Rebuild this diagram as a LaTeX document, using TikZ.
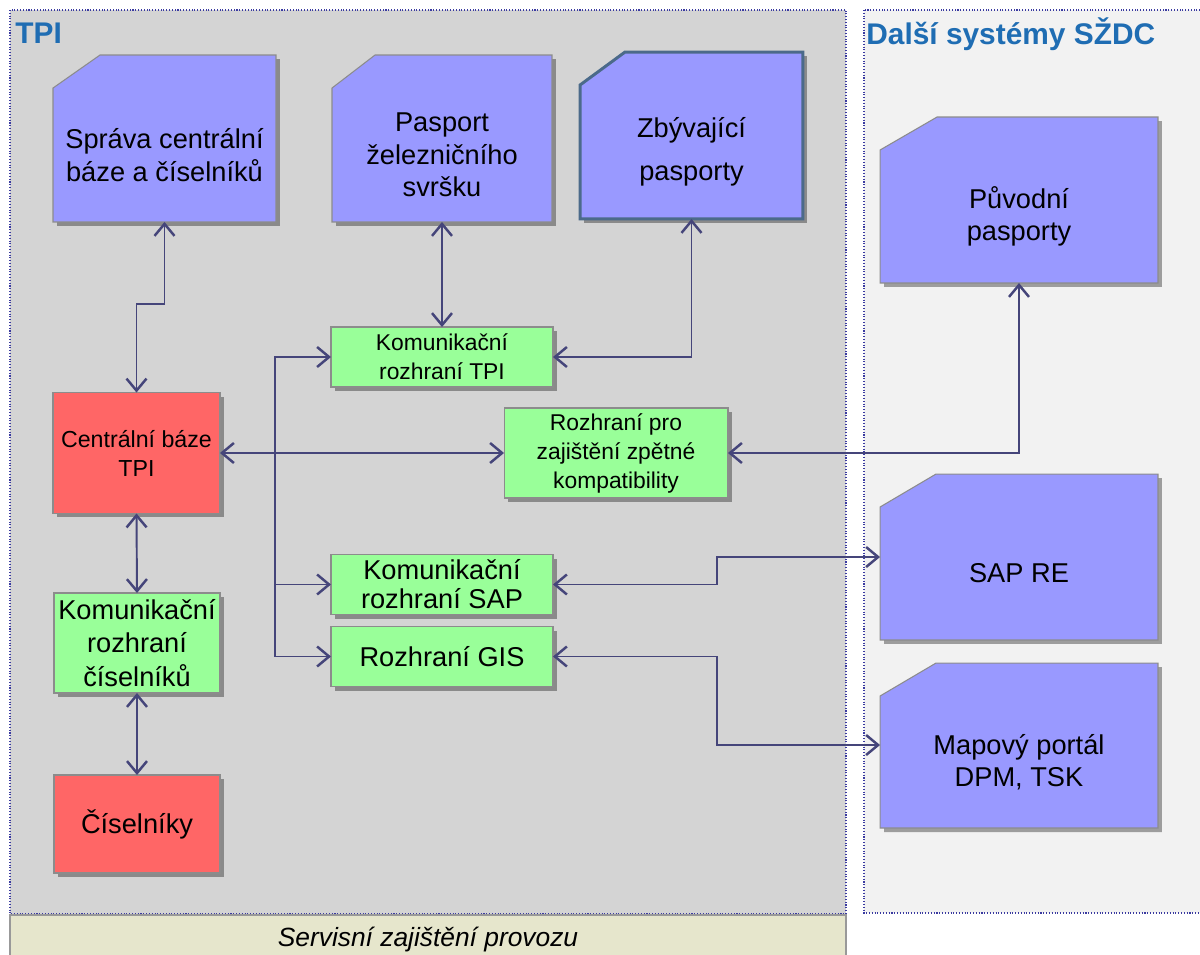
\documentclass[tikz,border=0pt]{standalone}
\usepackage{fontspec}
\setmainfont{Liberation Sans}
\usetikzlibrary{arrows.meta,shadows,backgrounds}
\definecolor{tpigray}{HTML}{D4D4D4}
\definecolor{sysgray}{HTML}{F2F2F2}
\definecolor{servis}{HTML}{E6E6CC}
\definecolor{framec}{HTML}{3A3AA0}
\definecolor{titleblue}{HTML}{1F6DB3}
\definecolor{paspc}{HTML}{9999FF}
\definecolor{ifacec}{HTML}{99FF99}
\definecolor{dbred}{HTML}{FF6666}
\definecolor{linkc}{HTML}{45457A}
\definecolor{thickedge}{HTML}{4B6A8A}

% chamfered "passport" outline behind a node: node name, chamfer width
\newcommand\paspshape[3][]{%
  \path[paspbox,#1] (#2.north west) -- ([xshift=#3,yshift=0.66cm]#2.north west)
    -- ([yshift=0.66cm]#2.north east) -- (#2.south east) -- (#2.south west) -- cycle;}

\begin{document}
\begin{tikzpicture}[x=0.02cm, y=-0.02cm, >={Straight Barb[length=0.24cm,width=0.4cm,line width=1.4pt]},
    big/.style={font=\fontsize{15.5}{18.5}\selectfont},
    small/.style={font=\fontsize{13}{16.5}\selectfont},
    shade/.style={drop shadow={shadow xshift=0.08cm, shadow yshift=-0.08cm, fill=black, opacity=0.35}},
    doc/.style={rectangle, align=center, inner sep=0pt, outer sep=0pt, big},
    paspbox/.style={fill=paspc, draw=black!45, line width=0.6pt, shade},
    iface/.style={rectangle, draw=black!45, fill=ifacec, line width=0.6pt, align=center,
      inner sep=0pt, outer sep=0pt, shade},
    db/.style={iface, fill=dbred},
    conn/.style={draw=linkc, line width=1.1pt}]
\useasboundingbox (0,0) rectangle (1200,954);
\clip (0,0) rectangle (1200,954);

% passports
\node[doc, minimum width=4.46cm, minimum height=2.68cm] (spr) at (164.5,155) {Správa centrální\\báze a číselníků};
\node[doc, minimum width=4.4cm, minimum height=2.68cm] (pas) at (442,155) {Pasport\\železničního\\svršku};
\node[doc, minimum width=4.46cm, minimum height=2.68cm, font=\fontsize{15.5}{24.5}\selectfont] (zby) at (691.5,152) {Zbývající\\pasporty};
\node[doc, minimum width=5.56cm, minimum height=2.66cm] (puv) at (1019,216.5) {Původní\\pasporty};
\node[doc, minimum width=5.56cm, minimum height=2.66cm] (sap) at (1019,573.5) {SAP RE};
\node[doc, minimum width=5.56cm, minimum height=2.64cm] (map) at (1019,762) {Mapový portál\\DPM, TSK};

% databases and interfaces
\node[db, font=\fontsize{13.2}{16.5}\selectfont, minimum width=3.34cm, minimum height=2.42cm] (cen) at (136.5,453) {Centrální báze\\TPI};
\node[iface, font=\fontsize{15.5}{19}\selectfont, minimum width=3.32cm, minimum height=2cm] (kci) at (137,643) {Komunikační\\rozhraní\\číselníků};
\node[db, big, minimum width=3.32cm, minimum height=1.96cm] (cis) at (137,824) {Číselníky};
\node[iface, small, minimum width=4.44cm, minimum height=1.2cm] (kti) at (442,357) {Komunikační\\rozhraní TPI};
\node[iface, small, minimum width=4.48cm, minimum height=1.8cm] (zpe) at (616,453) {Rozhraní pro\\zajištění zpětné\\kompatibility};
\node[iface, font=\fontsize{15.5}{16.5}\selectfont, minimum width=4.44cm, minimum height=1.2cm] (ksap) at (442,584.5) {Komunikační\\rozhraní SAP};
\node[iface, big, minimum width=4.44cm, minimum height=1.2cm] (gis) at (442,656.5) {Rozhraní GIS};

% titles
\node[anchor=base west, inner sep=0pt, text=titleblue, font=\fontsize{17}{20}\selectfont\bfseries] (tpi) at (15,43) {TPI};
\node[anchor=base west, inner sep=0pt, text=titleblue, font=\fontsize{17}{20}\selectfont\bfseries] (dal) at (866,44) {Další systémy SŽDC};
\node[anchor=base, inner sep=0pt, font=\fontsize{15}{18}\selectfont\itshape] (srv) at (428,946) {Servisní zajištění provozu};

\begin{scope}[on background layer]
  \fill[white] (0,0) rectangle (1200,954);
  \filldraw[fill=tpigray, draw=framec, densely dotted, line width=0.6pt] (10,10) rectangle (846,914);
  \filldraw[fill=sysgray, draw=framec, densely dotted, line width=0.6pt] (864,10) rectangle (1210,913);
  \filldraw[fill=servis, draw=black!40, line width=0.6pt] (10,915) rectangle (846,970);
  \paspshape{spr}{0.94cm}
  \paspshape{pas}{0.86cm}
  \paspshape[draw=thickedge, line width=1.7pt]{zby}{0.9cm}
  \paspshape{puv}{1.14cm}
  \paspshape{sap}{1.12cm}
  \paspshape{map}{1.12cm}
\end{scope}

% connectors
\draw[conn, <->] (spr.south) -- ++(0,82) -| (cen.north);
\draw[conn, <->] (pas.south) -- (kti.north);
\draw[conn, <->] (zby.south) |- (kti.east);
\draw[conn, <->] (cen.east) -- (zpe.west);
\coordinate (bus) at ([xshift=1.1cm]cen.east);
\draw[conn, ->] (bus) |- (kti.west);
\draw[conn, ->] (bus) |- (ksap.west);
\draw[conn, ->] (bus) |- (gis.west);
\draw[conn, <->] (zpe.east) -| (puv.south);
\draw[conn, <->] (ksap.east) -- ++(164,0) |- ([yshift=0.33cm]sap.west);
\draw[conn, <->] (gis.east) -- ++(164,0) |- ([yshift=0.34cm]map.west);
\draw[conn, <->] (cen.south) -- (kci.north);
\draw[conn, <->] (kci.south) -- (cis.north);
\end{tikzpicture}
\end{document}
